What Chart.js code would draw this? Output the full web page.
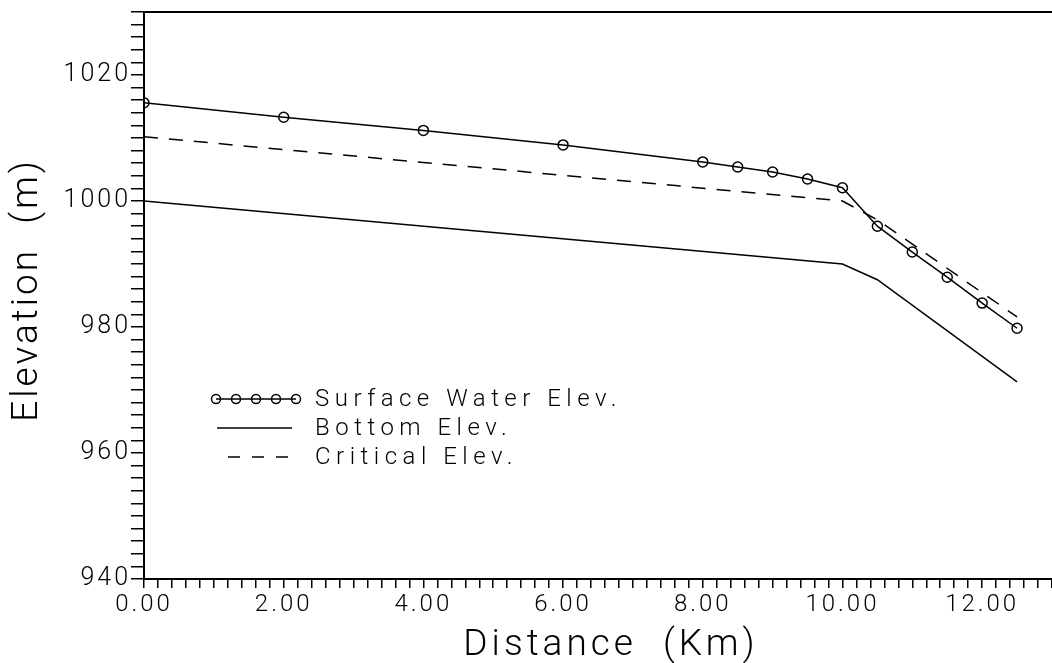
<!DOCTYPE html>
<html><head><meta charset="utf-8">
<script src="https://cdn.jsdelivr.net/npm/chart.js@4.4.1/dist/chart.umd.min.js"></script>
<style>html,body{margin:0;background:#fff}#wrap{width:1052px;height:663px;position:relative}</style>
</head><body><div id="wrap"><canvas id="c"></canvas></div>
<script>
// values
const surfaceKm   = [0, 2, 4, 6, 8, 8.5, 9, 9.5, 10, 10.5, 11, 11.5, 12, 12.5];
const surfaceElev = [1015.6, 1013.3, 1011.2, 1008.9, 1006.2, 1005.4, 1004.6, 1003.5, 1002.1, 996.0, 991.9, 987.9, 983.8, 979.8];
const bottomKm    = [0, 10, 10.5, 12.5];
const bottomElev  = [1000, 990, 987.5, 971.3];
const criticalKm  = [0, 10, 10.5, 12.5];
const criticalElev= [1010.2, 1000, 997.0, 981.6];
const legendLabels = ["Surface Water Elev.", "Bottom Elev.", "Critical Elev."];
const xTitle = "Distance  (Km)", yTitle = "Elevation  (m)";
const FONT = "Roboto, 'DejaVu Sans', sans-serif";

const pts = (xs, ys) => xs.map((x, i) => ({x, y: ys[i]}));
const isMult = (v, m) => Math.abs(v / m - Math.round(v / m)) < 1e-6;
const noPad = s => { s.paddingTop = 0; s.paddingBottom = 0; s.paddingLeft = 0; s.paddingRight = 0; };

const frame = {
  id: "frame",
  beforeDraw(c){ c.ctx.letterSpacing = "3px"; },
  afterDraw(c){
    const ctx = c.ctx, a = c.chartArea;
    ctx.save();
    ctx.strokeStyle = "#000"; ctx.fillStyle = "#000";
    // top border
    ctx.lineWidth = 2;
    ctx.beginPath(); ctx.moveTo(a.left, a.top); ctx.lineTo(c.width, a.top); ctx.stroke();
    // axis titles
    ctx.letterSpacing = "4px";
    ctx.font = "300 37px " + FONT;
    ctx.textAlign = "center"; ctx.textBaseline = "alphabetic";
    ctx.fillText(xTitle, 611, 655);
    ctx.letterSpacing = "3px";
    ctx.save(); ctx.translate(37, 290); ctx.rotate(-Math.PI / 2);
    ctx.fillText(yTitle, 0, 0); ctx.restore();
    // legend
    const rows = [399, 428, 457];
    ctx.letterSpacing = "5.5px";
    ctx.font = "300 24px " + FONT;
    ctx.textAlign = "left"; ctx.textBaseline = "middle";
    ctx.lineWidth = 1.5;
    ctx.beginPath(); ctx.moveTo(216, rows[0]); ctx.lineTo(296, rows[0]); ctx.stroke();
    for (let i = 0; i < 5; i++){ ctx.beginPath(); ctx.arc(216 + 20 * i, rows[0], 4.5, 0, 2 * Math.PI); ctx.stroke(); }
    ctx.beginPath(); ctx.moveTo(217, rows[1]); ctx.lineTo(292, rows[1]); ctx.stroke();
    ctx.setLineDash([12, 12]);
    ctx.beginPath(); ctx.moveTo(228, rows[2]); ctx.lineTo(292, rows[2]); ctx.stroke();
    ctx.setLineDash([]);
    legendLabels.forEach((t, i) => ctx.fillText(t, 315, rows[i] + 1));
    ctx.restore();
  }
};

new Chart(document.getElementById("c"), {
  type: "line",
  data: { datasets: [
    { label: legendLabels[0], data: pts(surfaceKm, surfaceElev), borderColor: "#000", borderWidth: 1.5,
      pointRadius: 5, pointHoverRadius: 5, pointBorderWidth: 1.5, pointBorderColor: "#000", pointBackgroundColor: "rgba(0,0,0,0)" },
    { label: legendLabels[1], data: pts(bottomKm, bottomElev), borderColor: "#000", borderWidth: 1.5, pointRadius: 0 },
    { label: legendLabels[2], data: pts(criticalKm, criticalElev), borderColor: "#000", borderWidth: 1.5, pointRadius: 0, borderDash: [14, 11] }
  ]},
  options: {
    responsive: true, maintainAspectRatio: false, animation: false,
    layout: { autoPadding: false, padding: { top: 12, right: 0, left: 0, bottom: 0 } },
    plugins: { legend: { display: false }, tooltip: { enabled: false } },
    scales: {
      x: { type: "linear", min: 0, max: 13,
        afterFit: s => { s.height = 84; noPad(s); },
        border: { display: true, color: "#000", width: 2 },
        grid: { drawOnChartArea: false, drawTicks: true, tickLength: 9, color: "#000", lineWidth: 1.5 },
        ticks: { stepSize: 0.2, autoSkip: false, maxRotation: 0, color: "#000", padding: 3,
          font: { family: FONT, size: 24, weight: "300" },
          callback: v => isMult(v, 2) ? (Math.round(v * 10) / 10).toFixed(2) : "" } },
      y: { min: 940, max: 1030,
        afterFit: s => { s.width = 144; noPad(s); },
        border: { display: true, color: "#000", width: 2 },
        grid: { drawOnChartArea: false, drawTicks: true, tickLength: 13, color: "#000", lineWidth: 1.5 },
        ticks: { stepSize: 2, autoSkip: false, color: "#000", padding: 0,
          font: { family: FONT, size: 25, weight: "300" },
          callback: v => isMult(v, 20) ? String(Math.round(v)) : "" } }
    }
  },
  plugins: [frame]
});
</script></body></html>
